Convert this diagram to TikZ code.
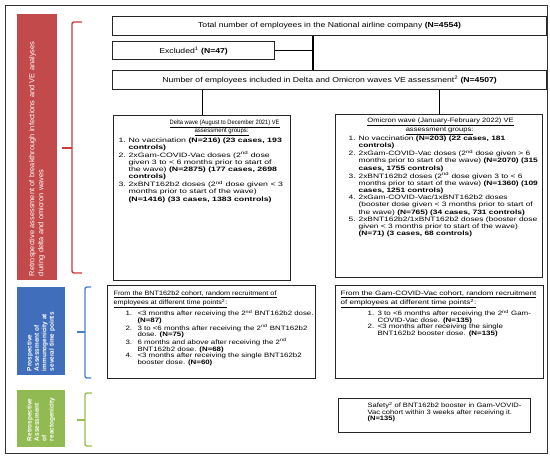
\documentclass[tikz,border=0pt]{standalone}
\usepackage{graphicx}
\usepackage{fontspec}
\setmainfont{Liberation Sans}[FakeStretch=1.2]
\newfontfamily\barfont{Liberation Sans}
\definecolor{barred}{RGB}{194,74,74}
\definecolor{barblue}{RGB}{64,110,186}
\definecolor{bargreen}{RGB}{146,186,82}
\definecolor{bracered}{RGB}{200,60,60}
\definecolor{braceblue}{RGB}{74,124,200}
\definecolor{bracegreen}{RGB}{150,190,80}
\newcommand{\bodyfont}{\fontsize{6.3}{7.2}\selectfont}
\newcommand{\topfont}{\fontsize{7.2}{8}\selectfont}
\newcommand{\nd}{\textsuperscript{nd}}
\newcommand{\ttl}[3]{\hspace*{#1}\makebox[0pt]{\scalebox{#2}[1]{\underline{#3}}}\par}
\begin{document}
\begin{tikzpicture}[x=1pt,y=-1pt,
  box/.style={draw=black!85, line width=1.2pt, inner sep=0pt, anchor=north west},
  topbox/.style={box, font=\topfont, minimum height=19pt},
  bar/.style={rotate=90, inner ysep=0pt, text=white, align=left, font=\barfont},
  link/.style={draw=black, line width=1.2pt},
  brace/.style={line width=1.4pt, rounded corners=2pt},
  frame/.style={draw=black!80, line width=0.8pt}]
\useasboundingbox (0,0) rectangle (550,459);
\draw[frame] (5,5) rectangle (547,453);

% side bars
\node[bar, fill=barred, minimum width=266pt, minimum height=40pt, inner xsep=4pt, text width=258pt,
  font=\barfont\fontsize{7.4}{9}\selectfont] (redbar) at (37,147)
  {Retrospective assessment of breakthrough infections and VE analyses\\during delta and omicron waves};
\node[bar, fill=barblue, minimum width=88pt, minimum height=48pt, inner xsep=4pt, text width=80pt,
  font=\barfont\bfseries\fontsize{6.4}{7.4}\selectfont] (bluebar) at (41,331)
  {Prospective\\Assessment of\\immunogenicity at\\several time points};
\node[bar, fill=bargreen, minimum width=57pt, minimum height=48pt, inner xsep=6pt, text width=45pt,
  font=\barfont\bfseries\fontsize{6.4}{7.4}\selectfont] (greenbar) at (41,418.5)
  {Retrospective\\Assessment of\\reactogenicity};

% braces
\draw[brace, bracered] (82,22) -- (72,22) -- (72,273) -- (82,273);
\draw[brace, bracered] (72,148) -- (62,148);
\draw[brace, braceblue] (91,287) -- (85,287) -- (85,378) -- (91,378);
\draw[brace, braceblue] (85,332) -- (77,332);
\draw[brace, bracegreen] (92,393) -- (85,393) -- (85,446) -- (92,446);
\draw[brace, bracegreen] (85,420) -- (77,420);

% top boxes
\node[topbox, minimum width=434pt] (total) at (112,16)
  {Total number of employees in the National airline company \textbf{(N=4554)}};
\node[topbox, minimum width=162pt, minimum height=18pt] (excl) at (112,41)
  {Excluded\textsuperscript{1} \textbf{(N=47)}};
\node[topbox, minimum width=434pt] (incl) at (112,70)
  {Number of employees included in Delta and Omicron waves VE assessment\textsuperscript{2} \textbf{(N=4507)}};

% delta box
\node[box] (delta) at (113,115) {\begin{minipage}[t][165pt][t]{177pt}\bodyfont
\vspace*{4.3pt}%
\ttl{111pt}{0.76}{Delta wave (August to December 2021) VE}
\ttl{108pt}{0.8}{assessment groups:}
\hspace*{5pt}\scalebox{1.16}[1]{\begin{tabular}[t]{@{}p{8.6pt}@{}l@{}}
1. & No vaccination \textbf{(N=216) (23 cases, 193}\\
 & \textbf{controls)}\\
2. & 2xGam-COVID-Vac doses (2\nd{} dose\\
 & given 3 to < 6 months prior to start of\\
 & the wave) \textbf{(N=2875) (177 cases, 2698}\\
 & \textbf{controls)}\\
3. & 2xBNT162b2 doses (2\nd{} dose given < 3\\
 & months prior to start of the wave)\\
 & \textbf{(N=1416) (33 cases, 1383 controls)}
\end{tabular}}
\end{minipage}};

% omicron box
\node[box] (omi) at (335,114) {\begin{minipage}[t][163pt][t]{207pt}\bodyfont
\vspace*{3.8pt}%
\ttl{105pt}{1}{Omicron wave (January-February 2022) VE}
\ttl{104pt}{1}{assessment groups:}
\hspace*{13pt}\scalebox{1.11}[1]{\begin{tabular}[t]{@{}p{9pt}@{}l@{}}
1. & No vaccination \textbf{(N=203) (22 cases, 181}\\
 & \textbf{controls)}\\
2. & 2xGam-COVID-Vac doses (2\nd{} dose given > 6\\
 & months prior to start of the wave) \textbf{(N=2070) (315}\\
 & \textbf{cases, 1755 controls)}\\
3. & 2xBNT162b2 doses (2\nd{} dose given 3 to < 6\\
 & months prior to start of the wave) \textbf{(N=1360) (109}\\
 & \textbf{cases, 1251 controls)}\\
4. & 2xGam-COVID-Vac/1xBNT162b2 doses\\
 & (booster dose given < 3 months prior to start of\\
 & the wave) \textbf{(N=765) (34 cases, 731 controls)}\\
5. & 2xBNT162b2/1xBNT162b2 doses (booster dose\\
 & given < 3 months prior to start of the wave)\\
 & \textbf{(N=71) (3 cases, 68 controls)}
\end{tabular}}
\end{minipage}};

% BNT box
\node[box] (bnt) at (107,285) {\begin{minipage}[t][93pt][t]{208pt}\fontsize{6.3}{6.7}\selectfont
\vspace*{5.2pt}%
\hspace*{6pt}\scalebox{0.96}[1]{\underline{From the BNT162b2 cohort, random recruitment of}}\par
\hspace*{6pt}\scalebox{0.96}[1]{\underline{employees at different time points\textsuperscript{2}:}}\par
\vspace{0.8pt}%
\hspace*{18pt}\scalebox{1.04}[1]{\begin{tabular}[t]{@{}p{11.5pt}@{}l@{}}
1. & <3 months after receiving the 2\nd{} BNT162b2 dose.\\
 & \textbf{(N=87)}\\
2. & 3 to <6 months after receiving the 2\nd{} BNT162b2\\
 & dose. \textbf{(N=75)}\\
3. & 6 months and above after receiving the 2\nd\\
 & BNT162b2 dose. \textbf{(N=68)}\\
4. & <3 months after receiving the single BNT162b2\\
 & booster dose. \textbf{(N=60)}
\end{tabular}}
\end{minipage}};

% Gam box
\node[box] (gam) at (335,285) {\begin{minipage}[t][93pt][t]{208pt}\fontsize{6.3}{6.7}\selectfont
\vspace*{5.2pt}%
\hspace*{5pt}\scalebox{1.07}[1]{\underline{From the Gam-COVID-Vac cohort, random recruitment}}\par
\hspace*{5pt}\scalebox{1.07}[1]{\underline{of employees at different time points\textsuperscript{2}:}}\par
\vspace{0.8pt}%
\hspace*{32pt}\scalebox{1.05}[1]{\begin{tabular}[t]{@{}p{9.5pt}@{}l@{}}
1. & 3 to <6 months after receiving the 2\nd{} Gam-\\
 & COVID-Vac dose. \textbf{(N=135)}\\
2. & <3 months after receiving the single\\
 & BNT162b2 booster dose. \textbf{(N=135)}
\end{tabular}}
\end{minipage}};

% Safety box
\node[box] (safe) at (338,398) {\begin{minipage}[t][34pt][t]{192pt}\fontsize{6.3}{6.5}\selectfont
\vspace*{3.5pt}%
\leftskip=29pt
Safety\textsuperscript{2} of BNT162b2 booster in Gam-VOVID-\\
Vac cohort within 3 weeks after receiving it.\\
\textbf{(N=135)}\par
\end{minipage}};

% connectors
\coordinate (j) at (313,50);
\draw[link] (total.south -| j) -- (incl.north -| j);
\draw[link] (excl.east) -- (excl.east -| j);
\draw[link] (incl.south -| delta.north) -- (delta.north);
\draw[link] (incl.south -| omi.north) -- (omi.north);
\end{tikzpicture}
\end{document}
